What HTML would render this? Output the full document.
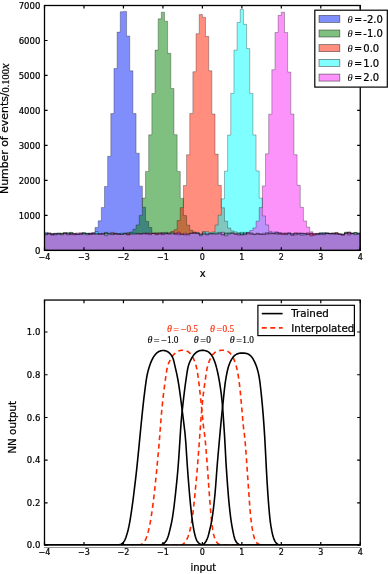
<!DOCTYPE html>
<html><head><meta charset="utf-8"><title>figure</title>
<style>html,body{margin:0;padding:0;background:#fff}svg text{white-space:pre}</style></head>
<body>
<svg width="388" height="574" viewBox="0 0 388 574" style="display:block;will-change:transform;font-family:'DejaVu Sans','Liberation Sans',sans-serif">
<rect x="0" y="0" width="388" height="574" fill="#fff"/>
<clipPath id="c1"><rect x="44.5" y="5.5" width="315.75" height="244.9"/></clipPath>
<g clip-path="url(#c1)">
<path d="M44.50,250.40 L44.50,232.38 L47.66,232.38 L47.66,234.03 L50.82,234.03 L50.82,233.65 L53.97,233.65 L53.97,233.37 L57.13,233.37 L57.13,234.28 L60.29,234.28 L60.29,233.68 L63.45,233.68 L63.45,233.68 L66.60,233.68 L66.60,235.02 L69.76,235.02 L69.76,232.90 L72.92,232.90 L72.92,233.22 L76.07,233.22 L76.07,234.15 L79.23,234.15 L79.23,233.79 L82.39,233.79 L82.39,233.21 L85.55,233.21 L85.55,233.61 L88.71,233.61 L88.71,233.04 L91.86,233.04 L91.86,232.59 L95.02,232.59 L95.02,227.51 L98.18,227.51 L98.18,220.85 L101.34,220.85 L101.34,207.54 L104.49,207.54 L104.49,186.49 L107.65,186.49 L107.65,156.32 L110.81,156.32 L110.81,113.61 L113.96,113.61 L113.96,68.51 L117.12,68.51 L117.12,32.12 L120.28,32.12 L120.28,11.80 L123.44,11.80 L123.44,11.38 L126.59,11.38 L126.59,36.01 L129.75,36.01 L129.75,70.82 L132.91,70.82 L132.91,113.61 L136.07,113.61 L136.07,153.21 L139.22,153.21 L139.22,186.13 L142.38,186.13 L142.38,207.25 L145.54,207.25 L145.54,221.39 L148.70,221.39 L148.70,227.53 L151.86,227.53 L151.86,233.08 L155.01,233.08 L155.01,233.37 L158.17,233.37 L158.17,234.34 L161.33,234.34 L161.33,232.48 L164.49,232.48 L164.49,232.30 L167.64,232.30 L167.64,233.92 L170.80,233.92 L170.80,233.03 L173.96,233.03 L173.96,233.81 L177.12,233.81 L177.12,233.24 L180.27,233.24 L180.27,234.25 L183.43,234.25 L183.43,234.98 L186.59,234.98 L186.59,235.06 L189.75,235.06 L189.75,233.38 L192.90,233.38 L192.90,231.96 L196.06,231.96 L196.06,233.47 L199.22,233.47 L199.22,234.08 L202.38,234.08 L202.38,232.21 L205.53,232.21 L205.53,233.50 L208.69,233.50 L208.69,233.60 L211.85,233.60 L211.85,233.48 L215.01,233.48 L215.01,233.78 L218.16,233.78 L218.16,233.91 L221.32,233.91 L221.32,234.77 L224.48,234.77 L224.48,233.29 L227.63,233.29 L227.63,233.75 L230.79,233.75 L230.79,232.76 L233.95,232.76 L233.95,233.96 L237.11,233.96 L237.11,235.14 L240.26,235.14 L240.26,233.75 L243.42,233.75 L243.42,232.38 L246.58,232.38 L246.58,233.97 L249.74,233.97 L249.74,234.36 L252.90,234.36 L252.90,234.59 L256.05,234.59 L256.05,234.48 L259.21,234.48 L259.21,233.91 L262.37,233.91 L262.37,234.58 L265.53,234.58 L265.53,232.53 L268.68,232.53 L268.68,233.89 L271.84,233.89 L271.84,233.59 L275.00,233.59 L275.00,232.58 L278.15,232.58 L278.15,232.53 L281.31,232.53 L281.31,233.84 L284.47,233.84 L284.47,233.42 L287.63,233.42 L287.63,233.11 L290.78,233.11 L290.78,233.82 L293.94,233.82 L293.94,235.04 L297.10,235.04 L297.10,233.18 L300.26,233.18 L300.26,232.99 L303.42,232.99 L303.42,233.36 L306.57,233.36 L306.57,234.38 L309.73,234.38 L309.73,233.83 L312.89,233.83 L312.89,234.13 L316.05,234.13 L316.05,233.91 L319.20,233.91 L319.20,232.68 L322.36,232.68 L322.36,232.51 L325.52,232.51 L325.52,233.16 L328.68,233.16 L328.68,233.26 L331.83,233.26 L331.83,233.16 L334.99,233.16 L334.99,233.69 L338.15,233.69 L338.15,233.73 L341.31,233.73 L341.31,234.19 L344.46,234.19 L344.46,233.72 L347.62,233.72 L347.62,231.95 L350.78,231.95 L350.78,233.01 L353.94,233.01 L353.94,233.94 L357.09,233.94 L357.09,234.04 L360.25,234.04 L360.25,250.40Z" fill="rgb(0,30,245)" fill-opacity="0.5"/>
<path d="M44.50,250.40 L44.50,234.34 L47.66,234.34 L47.66,233.39 L50.82,233.39 L50.82,233.38 L53.97,233.38 L53.97,234.78 L57.13,234.78 L57.13,233.30 L60.29,233.30 L60.29,234.11 L63.45,234.11 L63.45,232.59 L66.60,232.59 L66.60,233.56 L69.76,233.56 L69.76,232.36 L72.92,232.36 L72.92,234.03 L76.07,234.03 L76.07,233.90 L79.23,233.90 L79.23,233.45 L82.39,233.45 L82.39,232.87 L85.55,232.87 L85.55,233.24 L88.71,233.24 L88.71,234.62 L91.86,234.62 L91.86,233.54 L95.02,233.54 L95.02,233.66 L98.18,233.66 L98.18,234.01 L101.34,234.01 L101.34,234.17 L104.49,234.17 L104.49,232.34 L107.65,232.34 L107.65,233.98 L110.81,233.98 L110.81,234.32 L113.96,234.32 L113.96,233.19 L117.12,233.19 L117.12,233.57 L120.28,233.57 L120.28,233.69 L123.44,233.69 L123.44,232.93 L126.59,232.93 L126.59,232.82 L129.75,232.82 L129.75,232.00 L132.91,232.00 L132.91,229.22 L136.07,229.22 L136.07,224.97 L139.22,224.97 L139.22,215.40 L142.38,215.40 L142.38,198.07 L145.54,198.07 L145.54,171.44 L148.70,171.44 L148.70,134.85 L151.86,134.85 L151.86,93.62 L155.01,93.62 L155.01,50.11 L158.17,50.11 L158.17,18.83 L161.33,18.83 L161.33,12.22 L164.49,12.22 L164.49,21.17 L167.64,21.17 L167.64,53.33 L170.80,53.33 L170.80,88.52 L173.96,88.52 L173.96,134.68 L177.12,134.68 L177.12,171.44 L180.27,171.44 L180.27,198.38 L183.43,198.38 L183.43,215.61 L186.59,215.61 L186.59,225.19 L189.75,225.19 L189.75,230.27 L192.90,230.27 L192.90,232.94 L196.06,232.94 L196.06,233.42 L199.22,233.42 L199.22,234.71 L202.38,234.71 L202.38,233.62 L205.53,233.62 L205.53,235.04 L208.69,235.04 L208.69,233.82 L211.85,233.82 L211.85,233.14 L215.01,233.14 L215.01,232.84 L218.16,232.84 L218.16,232.37 L221.32,232.37 L221.32,234.87 L224.48,234.87 L224.48,233.10 L227.63,233.10 L227.63,232.75 L230.79,232.75 L230.79,232.93 L233.95,232.93 L233.95,234.39 L237.11,234.39 L237.11,233.36 L240.26,233.36 L240.26,232.25 L243.42,232.25 L243.42,234.82 L246.58,234.82 L246.58,233.31 L249.74,233.31 L249.74,232.83 L252.90,232.83 L252.90,234.21 L256.05,234.21 L256.05,233.23 L259.21,233.23 L259.21,234.50 L262.37,234.50 L262.37,234.30 L265.53,234.30 L265.53,234.30 L268.68,234.30 L268.68,233.53 L271.84,233.53 L271.84,233.75 L275.00,233.75 L275.00,232.95 L278.15,232.95 L278.15,234.40 L281.31,234.40 L281.31,233.78 L284.47,233.78 L284.47,232.94 L287.63,232.94 L287.63,233.25 L290.78,233.25 L290.78,234.69 L293.94,234.69 L293.94,233.17 L297.10,233.17 L297.10,234.04 L300.26,234.04 L300.26,233.38 L303.42,233.38 L303.42,233.45 L306.57,233.45 L306.57,232.74 L309.73,232.74 L309.73,233.59 L312.89,233.59 L312.89,235.09 L316.05,235.09 L316.05,234.72 L319.20,234.72 L319.20,233.12 L322.36,233.12 L322.36,233.87 L325.52,233.87 L325.52,232.81 L328.68,232.81 L328.68,233.47 L331.83,233.47 L331.83,234.25 L334.99,234.25 L334.99,232.85 L338.15,232.85 L338.15,234.29 L341.31,234.29 L341.31,235.25 L344.46,235.25 L344.46,232.10 L347.62,232.10 L347.62,235.14 L350.78,235.14 L350.78,233.19 L353.94,233.19 L353.94,232.96 L357.09,232.96 L357.09,233.56 L360.25,233.56 L360.25,250.40Z" fill="rgb(0,128,0)" fill-opacity="0.5"/>
<path d="M44.50,250.40 L44.50,234.96 L47.66,234.96 L47.66,232.90 L50.82,232.90 L50.82,234.78 L53.97,234.78 L53.97,234.70 L57.13,234.70 L57.13,233.95 L60.29,233.95 L60.29,233.07 L63.45,233.07 L63.45,233.45 L66.60,233.45 L66.60,233.06 L69.76,233.06 L69.76,234.02 L72.92,234.02 L72.92,233.81 L76.07,233.81 L76.07,234.55 L79.23,234.55 L79.23,233.92 L82.39,233.92 L82.39,233.22 L85.55,233.22 L85.55,233.91 L88.71,233.91 L88.71,233.31 L91.86,233.31 L91.86,234.12 L95.02,234.12 L95.02,234.13 L98.18,234.13 L98.18,233.65 L101.34,233.65 L101.34,233.83 L104.49,233.83 L104.49,233.22 L107.65,233.22 L107.65,233.54 L110.81,233.54 L110.81,232.35 L113.96,232.35 L113.96,233.84 L117.12,233.84 L117.12,233.85 L120.28,233.85 L120.28,234.47 L123.44,234.47 L123.44,233.66 L126.59,233.66 L126.59,233.15 L129.75,233.15 L129.75,234.24 L132.91,234.24 L132.91,233.71 L136.07,233.71 L136.07,233.13 L139.22,233.13 L139.22,233.77 L142.38,233.77 L142.38,234.07 L145.54,234.07 L145.54,232.93 L148.70,232.93 L148.70,233.60 L151.86,233.60 L151.86,233.37 L155.01,233.37 L155.01,232.78 L158.17,232.78 L158.17,232.78 L161.33,232.78 L161.33,233.86 L164.49,233.86 L164.49,233.81 L167.64,233.81 L167.64,232.63 L170.80,232.63 L170.80,231.51 L173.96,231.51 L173.96,229.68 L177.12,229.68 L177.12,220.50 L180.27,220.50 L180.27,207.63 L183.43,207.63 L183.43,185.47 L186.59,185.47 L186.59,154.78 L189.75,154.78 L189.75,113.44 L192.90,113.44 L192.90,71.76 L196.06,71.76 L196.06,33.73 L199.22,33.73 L199.22,14.60 L202.38,14.60 L202.38,17.26 L205.53,17.26 L205.53,36.36 L208.69,36.36 L208.69,70.82 L211.85,70.82 L211.85,113.99 L215.01,113.99 L215.01,154.10 L218.16,154.10 L218.16,185.36 L221.32,185.36 L221.32,207.81 L224.48,207.81 L224.48,221.19 L227.63,221.19 L227.63,228.02 L230.79,228.02 L230.79,230.89 L233.95,230.89 L233.95,231.88 L237.11,231.88 L237.11,232.78 L240.26,232.78 L240.26,234.95 L243.42,234.95 L243.42,233.37 L246.58,233.37 L246.58,232.55 L249.74,232.55 L249.74,233.63 L252.90,233.63 L252.90,234.07 L256.05,234.07 L256.05,233.44 L259.21,233.44 L259.21,234.06 L262.37,234.06 L262.37,233.19 L265.53,233.19 L265.53,233.69 L268.68,233.69 L268.68,232.61 L271.84,232.61 L271.84,233.29 L275.00,233.29 L275.00,234.23 L278.15,234.23 L278.15,233.21 L281.31,233.21 L281.31,232.96 L284.47,232.96 L284.47,234.11 L287.63,234.11 L287.63,234.00 L290.78,234.00 L290.78,235.44 L293.94,235.44 L293.94,232.99 L297.10,232.99 L297.10,234.13 L300.26,234.13 L300.26,235.30 L303.42,235.30 L303.42,235.03 L306.57,235.03 L306.57,233.85 L309.73,233.85 L309.73,233.09 L312.89,233.09 L312.89,233.74 L316.05,233.74 L316.05,233.32 L319.20,233.32 L319.20,234.52 L322.36,234.52 L322.36,234.70 L325.52,234.70 L325.52,233.00 L328.68,233.00 L328.68,233.30 L331.83,233.30 L331.83,233.70 L334.99,233.70 L334.99,232.70 L338.15,232.70 L338.15,234.40 L341.31,234.40 L341.31,234.00 L344.46,234.00 L344.46,232.89 L347.62,232.89 L347.62,232.27 L350.78,232.27 L350.78,233.67 L353.94,233.67 L353.94,232.39 L357.09,232.39 L357.09,234.14 L360.25,234.14 L360.25,250.40Z" fill="rgb(255,30,0)" fill-opacity="0.5"/>
<path d="M44.50,250.40 L44.50,233.42 L47.66,233.42 L47.66,233.81 L50.82,233.81 L50.82,234.89 L53.97,234.89 L53.97,233.48 L57.13,233.48 L57.13,232.96 L60.29,232.96 L60.29,233.79 L63.45,233.79 L63.45,233.73 L66.60,233.73 L66.60,232.61 L69.76,232.61 L69.76,234.63 L72.92,234.63 L72.92,234.82 L76.07,234.82 L76.07,234.18 L79.23,234.18 L79.23,234.59 L82.39,234.59 L82.39,232.65 L85.55,232.65 L85.55,233.44 L88.71,233.44 L88.71,234.34 L91.86,234.34 L91.86,234.15 L95.02,234.15 L95.02,231.49 L98.18,231.49 L98.18,234.14 L101.34,234.14 L101.34,234.26 L104.49,234.26 L104.49,233.44 L107.65,233.44 L107.65,233.19 L110.81,233.19 L110.81,233.51 L113.96,233.51 L113.96,234.37 L117.12,234.37 L117.12,234.56 L120.28,234.56 L120.28,233.22 L123.44,233.22 L123.44,233.72 L126.59,233.72 L126.59,234.93 L129.75,234.93 L129.75,232.78 L132.91,232.78 L132.91,233.08 L136.07,233.08 L136.07,233.86 L139.22,233.86 L139.22,233.88 L142.38,233.88 L142.38,233.50 L145.54,233.50 L145.54,234.20 L148.70,234.20 L148.70,234.71 L151.86,234.71 L151.86,233.43 L155.01,233.43 L155.01,234.78 L158.17,234.78 L158.17,233.38 L161.33,233.38 L161.33,234.78 L164.49,234.78 L164.49,233.75 L167.64,233.75 L167.64,233.78 L170.80,233.78 L170.80,232.31 L173.96,232.31 L173.96,234.49 L177.12,234.49 L177.12,234.76 L180.27,234.76 L180.27,234.17 L183.43,234.17 L183.43,234.54 L186.59,234.54 L186.59,234.13 L189.75,234.13 L189.75,233.35 L192.90,233.35 L192.90,233.08 L196.06,233.08 L196.06,232.40 L199.22,232.40 L199.22,234.20 L202.38,234.20 L202.38,231.50 L205.53,231.50 L205.53,231.66 L208.69,231.66 L208.69,232.45 L211.85,232.45 L211.85,231.97 L215.01,231.97 L215.01,225.07 L218.16,225.07 L218.16,215.17 L221.32,215.17 L221.32,198.85 L224.48,198.85 L224.48,171.14 L227.63,171.14 L227.63,135.10 L230.79,135.10 L230.79,93.42 L233.95,93.42 L233.95,50.14 L237.11,50.14 L237.11,22.43 L240.26,22.43 L240.26,9.42 L243.42,9.42 L243.42,24.32 L246.58,24.32 L246.58,48.60 L249.74,48.60 L249.74,93.42 L252.90,93.42 L252.90,134.93 L256.05,134.93 L256.05,170.91 L259.21,170.91 L259.21,198.15 L262.37,198.15 L262.37,215.93 L265.53,215.93 L265.53,224.88 L268.68,224.88 L268.68,231.38 L271.84,231.38 L271.84,232.19 L275.00,232.19 L275.00,231.82 L278.15,231.82 L278.15,233.54 L281.31,233.54 L281.31,234.55 L284.47,234.55 L284.47,234.78 L287.63,234.78 L287.63,232.78 L290.78,232.78 L290.78,233.69 L293.94,233.69 L293.94,233.26 L297.10,233.26 L297.10,232.97 L300.26,232.97 L300.26,233.71 L303.42,233.71 L303.42,233.91 L306.57,233.91 L306.57,234.40 L309.73,234.40 L309.73,236.03 L312.89,236.03 L312.89,234.84 L316.05,234.84 L316.05,233.73 L319.20,233.73 L319.20,233.81 L322.36,233.81 L322.36,233.37 L325.52,233.37 L325.52,233.77 L328.68,233.77 L328.68,233.55 L331.83,233.55 L331.83,233.07 L334.99,233.07 L334.99,234.35 L338.15,234.35 L338.15,233.90 L341.31,233.90 L341.31,234.91 L344.46,234.91 L344.46,232.93 L347.62,232.93 L347.62,233.65 L350.78,233.65 L350.78,233.30 L353.94,233.30 L353.94,232.50 L357.09,232.50 L357.09,232.85 L360.25,232.85 L360.25,250.40Z" fill="rgb(0,255,255)" fill-opacity="0.5"/>
<path d="M44.50,250.40 L44.50,233.72 L47.66,233.72 L47.66,233.07 L50.82,233.07 L50.82,234.77 L53.97,234.77 L53.97,233.34 L57.13,233.34 L57.13,233.57 L60.29,233.57 L60.29,234.91 L63.45,234.91 L63.45,232.65 L66.60,232.65 L66.60,234.22 L69.76,234.22 L69.76,233.15 L72.92,233.15 L72.92,234.00 L76.07,234.00 L76.07,232.92 L79.23,232.92 L79.23,232.67 L82.39,232.67 L82.39,234.31 L85.55,234.31 L85.55,234.85 L88.71,234.85 L88.71,233.78 L91.86,233.78 L91.86,233.03 L95.02,233.03 L95.02,233.96 L98.18,233.96 L98.18,234.15 L101.34,234.15 L101.34,233.30 L104.49,233.30 L104.49,235.79 L107.65,235.79 L107.65,234.19 L110.81,234.19 L110.81,234.74 L113.96,234.74 L113.96,233.45 L117.12,233.45 L117.12,234.24 L120.28,234.24 L120.28,234.53 L123.44,234.53 L123.44,233.95 L126.59,233.95 L126.59,234.80 L129.75,234.80 L129.75,233.69 L132.91,233.69 L132.91,234.20 L136.07,234.20 L136.07,233.97 L139.22,233.97 L139.22,234.23 L142.38,234.23 L142.38,232.98 L145.54,232.98 L145.54,233.76 L148.70,233.76 L148.70,233.28 L151.86,233.28 L151.86,233.31 L155.01,233.31 L155.01,234.29 L158.17,234.29 L158.17,233.24 L161.33,233.24 L161.33,233.41 L164.49,233.41 L164.49,233.44 L167.64,233.44 L167.64,233.98 L170.80,233.98 L170.80,234.00 L173.96,234.00 L173.96,233.08 L177.12,233.08 L177.12,232.01 L180.27,232.01 L180.27,234.31 L183.43,234.31 L183.43,233.27 L186.59,233.27 L186.59,233.96 L189.75,233.96 L189.75,233.08 L192.90,233.08 L192.90,233.34 L196.06,233.34 L196.06,232.87 L199.22,232.87 L199.22,235.81 L202.38,235.81 L202.38,234.14 L205.53,234.14 L205.53,234.43 L208.69,234.43 L208.69,233.76 L211.85,233.76 L211.85,234.23 L215.01,234.23 L215.01,234.17 L218.16,234.17 L218.16,233.16 L221.32,233.16 L221.32,232.22 L224.48,232.22 L224.48,235.84 L227.63,235.84 L227.63,233.91 L230.79,233.91 L230.79,233.44 L233.95,233.44 L233.95,233.67 L237.11,233.67 L237.11,233.92 L240.26,233.92 L240.26,234.63 L243.42,234.63 L243.42,234.13 L246.58,234.13 L246.58,232.28 L249.74,232.28 L249.74,230.52 L252.90,230.52 L252.90,227.91 L256.05,227.91 L256.05,221.14 L259.21,221.14 L259.21,207.61 L262.37,207.61 L262.37,185.91 L265.53,185.91 L265.53,153.83 L268.68,153.83 L268.68,114.20 L271.84,114.20 L271.84,69.73 L275.00,69.73 L275.00,32.44 L278.15,32.44 L278.15,15.37 L281.31,15.37 L281.31,12.22 L284.47,12.22 L284.47,32.44 L287.63,32.44 L287.63,72.08 L290.78,72.08 L290.78,114.00 L293.94,114.00 L293.94,154.68 L297.10,154.68 L297.10,185.31 L300.26,185.31 L300.26,207.31 L303.42,207.31 L303.42,220.96 L306.57,220.96 L306.57,227.12 L309.73,227.12 L309.73,231.75 L312.89,231.75 L312.89,233.36 L316.05,233.36 L316.05,233.85 L319.20,233.85 L319.20,233.71 L322.36,233.71 L322.36,233.90 L325.52,233.90 L325.52,233.55 L328.68,233.55 L328.68,234.15 L331.83,234.15 L331.83,233.09 L334.99,233.09 L334.99,232.90 L338.15,232.90 L338.15,234.06 L341.31,234.06 L341.31,234.77 L344.46,234.77 L344.46,233.12 L347.62,233.12 L347.62,232.81 L350.78,232.81 L350.78,233.80 L353.94,233.80 L353.94,234.66 L357.09,234.66 L357.09,233.47 L360.25,233.47 L360.25,250.40Z" fill="rgb(248,40,248)" fill-opacity="0.5"/>
<path d="M44.50,250.40 L44.50,234.96 L47.66,234.96 L47.66,234.03 L50.82,234.03 L50.82,234.89 L53.97,234.89 L53.97,234.78 L57.13,234.78 L57.13,234.28 L60.29,234.28 L60.29,234.91 L63.45,234.91 L63.45,233.73 L66.60,233.73 L66.60,235.02 L69.76,235.02 L69.76,234.63 L72.92,234.63 L72.92,234.82 L76.07,234.82 L76.07,234.55 L79.23,234.55 L79.23,234.59 L82.39,234.59 L82.39,234.31 L85.55,234.31 L85.55,234.85 L88.71,234.85 L88.71,234.62 L91.86,234.62 L91.86,234.15 L95.02,234.15 L95.02,234.13 L98.18,234.13 L98.18,234.15 L101.34,234.15 L101.34,234.26 L104.49,234.26 L104.49,235.79 L107.65,235.79 L107.65,234.19 L110.81,234.19 L110.81,234.74 L113.96,234.74 L113.96,234.37 L117.12,234.37 L117.12,234.56 L120.28,234.56 L120.28,234.53 L123.44,234.53 L123.44,233.95 L126.59,233.95 L126.59,234.93 L129.75,234.93 L129.75,234.24 L132.91,234.24 L132.91,234.20 L136.07,234.20 L136.07,233.97 L139.22,233.97 L139.22,234.23 L142.38,234.23 L142.38,234.07 L145.54,234.07 L145.54,234.20 L148.70,234.20 L148.70,234.71 L151.86,234.71 L151.86,233.43 L155.01,233.43 L155.01,234.78 L158.17,234.78 L158.17,234.34 L161.33,234.34 L161.33,234.78 L164.49,234.78 L164.49,233.81 L167.64,233.81 L167.64,233.98 L170.80,233.98 L170.80,234.00 L173.96,234.00 L173.96,234.49 L177.12,234.49 L177.12,234.76 L180.27,234.76 L180.27,234.31 L183.43,234.31 L183.43,234.98 L186.59,234.98 L186.59,235.06 L189.75,235.06 L189.75,233.38 L192.90,233.38 L192.90,233.34 L196.06,233.34 L196.06,233.47 L199.22,233.47 L199.22,235.81 L202.38,235.81 L202.38,234.14 L205.53,234.14 L205.53,235.04 L208.69,235.04 L208.69,233.82 L211.85,233.82 L211.85,234.23 L215.01,234.23 L215.01,234.17 L218.16,234.17 L218.16,233.91 L221.32,233.91 L221.32,234.87 L224.48,234.87 L224.48,235.84 L227.63,235.84 L227.63,233.91 L230.79,233.91 L230.79,233.44 L233.95,233.44 L233.95,234.39 L237.11,234.39 L237.11,235.14 L240.26,235.14 L240.26,234.95 L243.42,234.95 L243.42,234.82 L246.58,234.82 L246.58,233.97 L249.74,233.97 L249.74,234.36 L252.90,234.36 L252.90,234.59 L256.05,234.59 L256.05,234.48 L259.21,234.48 L259.21,234.50 L262.37,234.50 L262.37,234.58 L265.53,234.58 L265.53,234.30 L268.68,234.30 L268.68,233.89 L271.84,233.89 L271.84,233.75 L275.00,233.75 L275.00,234.23 L278.15,234.23 L278.15,234.40 L281.31,234.40 L281.31,234.55 L284.47,234.55 L284.47,234.78 L287.63,234.78 L287.63,234.00 L290.78,234.00 L290.78,235.44 L293.94,235.44 L293.94,235.04 L297.10,235.04 L297.10,234.13 L300.26,234.13 L300.26,235.30 L303.42,235.30 L303.42,235.03 L306.57,235.03 L306.57,234.40 L309.73,234.40 L309.73,236.03 L312.89,236.03 L312.89,235.09 L316.05,235.09 L316.05,234.72 L319.20,234.72 L319.20,234.52 L322.36,234.52 L322.36,234.70 L325.52,234.70 L325.52,233.77 L328.68,233.77 L328.68,234.15 L331.83,234.15 L331.83,234.25 L334.99,234.25 L334.99,234.35 L338.15,234.35 L338.15,234.40 L341.31,234.40 L341.31,235.25 L344.46,235.25 L344.46,233.72 L347.62,233.72 L347.62,235.14 L350.78,235.14 L350.78,233.80 L353.94,233.80 L353.94,234.66 L357.09,234.66 L357.09,234.14 L360.25,234.14 L360.25,250.40Z" fill="rgb(167,122,212)"/>
<path d="M44.50,250.40 L44.50,232.38 L47.66,232.38 L47.66,234.03 L50.82,234.03 L50.82,233.65 L53.97,233.65 L53.97,233.37 L57.13,233.37 L57.13,234.28 L60.29,234.28 L60.29,233.68 L63.45,233.68 L63.45,233.68 L66.60,233.68 L66.60,235.02 L69.76,235.02 L69.76,232.90 L72.92,232.90 L72.92,233.22 L76.07,233.22 L76.07,234.15 L79.23,234.15 L79.23,233.79 L82.39,233.79 L82.39,233.21 L85.55,233.21 L85.55,233.61 L88.71,233.61 L88.71,233.04 L91.86,233.04 L91.86,232.59 L95.02,232.59 L95.02,227.51 L98.18,227.51 L98.18,220.85 L101.34,220.85 L101.34,207.54 L104.49,207.54 L104.49,186.49 L107.65,186.49 L107.65,156.32 L110.81,156.32 L110.81,113.61 L113.96,113.61 L113.96,68.51 L117.12,68.51 L117.12,32.12 L120.28,32.12 L120.28,11.80 L123.44,11.80 L123.44,11.38 L126.59,11.38 L126.59,36.01 L129.75,36.01 L129.75,70.82 L132.91,70.82 L132.91,113.61 L136.07,113.61 L136.07,153.21 L139.22,153.21 L139.22,186.13 L142.38,186.13 L142.38,207.25 L145.54,207.25 L145.54,221.39 L148.70,221.39 L148.70,227.53 L151.86,227.53 L151.86,233.08 L155.01,233.08 L155.01,233.37 L158.17,233.37 L158.17,234.34 L161.33,234.34 L161.33,232.48 L164.49,232.48 L164.49,232.30 L167.64,232.30 L167.64,233.92 L170.80,233.92 L170.80,233.03 L173.96,233.03 L173.96,233.81 L177.12,233.81 L177.12,233.24 L180.27,233.24 L180.27,234.25 L183.43,234.25 L183.43,234.98 L186.59,234.98 L186.59,235.06 L189.75,235.06 L189.75,233.38 L192.90,233.38 L192.90,231.96 L196.06,231.96 L196.06,233.47 L199.22,233.47 L199.22,234.08 L202.38,234.08 L202.38,232.21 L205.53,232.21 L205.53,233.50 L208.69,233.50 L208.69,233.60 L211.85,233.60 L211.85,233.48 L215.01,233.48 L215.01,233.78 L218.16,233.78 L218.16,233.91 L221.32,233.91 L221.32,234.77 L224.48,234.77 L224.48,233.29 L227.63,233.29 L227.63,233.75 L230.79,233.75 L230.79,232.76 L233.95,232.76 L233.95,233.96 L237.11,233.96 L237.11,235.14 L240.26,235.14 L240.26,233.75 L243.42,233.75 L243.42,232.38 L246.58,232.38 L246.58,233.97 L249.74,233.97 L249.74,234.36 L252.90,234.36 L252.90,234.59 L256.05,234.59 L256.05,234.48 L259.21,234.48 L259.21,233.91 L262.37,233.91 L262.37,234.58 L265.53,234.58 L265.53,232.53 L268.68,232.53 L268.68,233.89 L271.84,233.89 L271.84,233.59 L275.00,233.59 L275.00,232.58 L278.15,232.58 L278.15,232.53 L281.31,232.53 L281.31,233.84 L284.47,233.84 L284.47,233.42 L287.63,233.42 L287.63,233.11 L290.78,233.11 L290.78,233.82 L293.94,233.82 L293.94,235.04 L297.10,235.04 L297.10,233.18 L300.26,233.18 L300.26,232.99 L303.42,232.99 L303.42,233.36 L306.57,233.36 L306.57,234.38 L309.73,234.38 L309.73,233.83 L312.89,233.83 L312.89,234.13 L316.05,234.13 L316.05,233.91 L319.20,233.91 L319.20,232.68 L322.36,232.68 L322.36,232.51 L325.52,232.51 L325.52,233.16 L328.68,233.16 L328.68,233.26 L331.83,233.26 L331.83,233.16 L334.99,233.16 L334.99,233.69 L338.15,233.69 L338.15,233.73 L341.31,233.73 L341.31,234.19 L344.46,234.19 L344.46,233.72 L347.62,233.72 L347.62,231.95 L350.78,231.95 L350.78,233.01 L353.94,233.01 L353.94,233.94 L357.09,233.94 L357.09,234.04 L360.25,234.04 L360.25,250.40Z" fill="none" stroke="#000" stroke-opacity="0.42" stroke-width="0.7"/>
<path d="M44.50,250.40 L44.50,234.34 L47.66,234.34 L47.66,233.39 L50.82,233.39 L50.82,233.38 L53.97,233.38 L53.97,234.78 L57.13,234.78 L57.13,233.30 L60.29,233.30 L60.29,234.11 L63.45,234.11 L63.45,232.59 L66.60,232.59 L66.60,233.56 L69.76,233.56 L69.76,232.36 L72.92,232.36 L72.92,234.03 L76.07,234.03 L76.07,233.90 L79.23,233.90 L79.23,233.45 L82.39,233.45 L82.39,232.87 L85.55,232.87 L85.55,233.24 L88.71,233.24 L88.71,234.62 L91.86,234.62 L91.86,233.54 L95.02,233.54 L95.02,233.66 L98.18,233.66 L98.18,234.01 L101.34,234.01 L101.34,234.17 L104.49,234.17 L104.49,232.34 L107.65,232.34 L107.65,233.98 L110.81,233.98 L110.81,234.32 L113.96,234.32 L113.96,233.19 L117.12,233.19 L117.12,233.57 L120.28,233.57 L120.28,233.69 L123.44,233.69 L123.44,232.93 L126.59,232.93 L126.59,232.82 L129.75,232.82 L129.75,232.00 L132.91,232.00 L132.91,229.22 L136.07,229.22 L136.07,224.97 L139.22,224.97 L139.22,215.40 L142.38,215.40 L142.38,198.07 L145.54,198.07 L145.54,171.44 L148.70,171.44 L148.70,134.85 L151.86,134.85 L151.86,93.62 L155.01,93.62 L155.01,50.11 L158.17,50.11 L158.17,18.83 L161.33,18.83 L161.33,12.22 L164.49,12.22 L164.49,21.17 L167.64,21.17 L167.64,53.33 L170.80,53.33 L170.80,88.52 L173.96,88.52 L173.96,134.68 L177.12,134.68 L177.12,171.44 L180.27,171.44 L180.27,198.38 L183.43,198.38 L183.43,215.61 L186.59,215.61 L186.59,225.19 L189.75,225.19 L189.75,230.27 L192.90,230.27 L192.90,232.94 L196.06,232.94 L196.06,233.42 L199.22,233.42 L199.22,234.71 L202.38,234.71 L202.38,233.62 L205.53,233.62 L205.53,235.04 L208.69,235.04 L208.69,233.82 L211.85,233.82 L211.85,233.14 L215.01,233.14 L215.01,232.84 L218.16,232.84 L218.16,232.37 L221.32,232.37 L221.32,234.87 L224.48,234.87 L224.48,233.10 L227.63,233.10 L227.63,232.75 L230.79,232.75 L230.79,232.93 L233.95,232.93 L233.95,234.39 L237.11,234.39 L237.11,233.36 L240.26,233.36 L240.26,232.25 L243.42,232.25 L243.42,234.82 L246.58,234.82 L246.58,233.31 L249.74,233.31 L249.74,232.83 L252.90,232.83 L252.90,234.21 L256.05,234.21 L256.05,233.23 L259.21,233.23 L259.21,234.50 L262.37,234.50 L262.37,234.30 L265.53,234.30 L265.53,234.30 L268.68,234.30 L268.68,233.53 L271.84,233.53 L271.84,233.75 L275.00,233.75 L275.00,232.95 L278.15,232.95 L278.15,234.40 L281.31,234.40 L281.31,233.78 L284.47,233.78 L284.47,232.94 L287.63,232.94 L287.63,233.25 L290.78,233.25 L290.78,234.69 L293.94,234.69 L293.94,233.17 L297.10,233.17 L297.10,234.04 L300.26,234.04 L300.26,233.38 L303.42,233.38 L303.42,233.45 L306.57,233.45 L306.57,232.74 L309.73,232.74 L309.73,233.59 L312.89,233.59 L312.89,235.09 L316.05,235.09 L316.05,234.72 L319.20,234.72 L319.20,233.12 L322.36,233.12 L322.36,233.87 L325.52,233.87 L325.52,232.81 L328.68,232.81 L328.68,233.47 L331.83,233.47 L331.83,234.25 L334.99,234.25 L334.99,232.85 L338.15,232.85 L338.15,234.29 L341.31,234.29 L341.31,235.25 L344.46,235.25 L344.46,232.10 L347.62,232.10 L347.62,235.14 L350.78,235.14 L350.78,233.19 L353.94,233.19 L353.94,232.96 L357.09,232.96 L357.09,233.56 L360.25,233.56 L360.25,250.40Z" fill="none" stroke="#000" stroke-opacity="0.42" stroke-width="0.7"/>
<path d="M44.50,250.40 L44.50,234.96 L47.66,234.96 L47.66,232.90 L50.82,232.90 L50.82,234.78 L53.97,234.78 L53.97,234.70 L57.13,234.70 L57.13,233.95 L60.29,233.95 L60.29,233.07 L63.45,233.07 L63.45,233.45 L66.60,233.45 L66.60,233.06 L69.76,233.06 L69.76,234.02 L72.92,234.02 L72.92,233.81 L76.07,233.81 L76.07,234.55 L79.23,234.55 L79.23,233.92 L82.39,233.92 L82.39,233.22 L85.55,233.22 L85.55,233.91 L88.71,233.91 L88.71,233.31 L91.86,233.31 L91.86,234.12 L95.02,234.12 L95.02,234.13 L98.18,234.13 L98.18,233.65 L101.34,233.65 L101.34,233.83 L104.49,233.83 L104.49,233.22 L107.65,233.22 L107.65,233.54 L110.81,233.54 L110.81,232.35 L113.96,232.35 L113.96,233.84 L117.12,233.84 L117.12,233.85 L120.28,233.85 L120.28,234.47 L123.44,234.47 L123.44,233.66 L126.59,233.66 L126.59,233.15 L129.75,233.15 L129.75,234.24 L132.91,234.24 L132.91,233.71 L136.07,233.71 L136.07,233.13 L139.22,233.13 L139.22,233.77 L142.38,233.77 L142.38,234.07 L145.54,234.07 L145.54,232.93 L148.70,232.93 L148.70,233.60 L151.86,233.60 L151.86,233.37 L155.01,233.37 L155.01,232.78 L158.17,232.78 L158.17,232.78 L161.33,232.78 L161.33,233.86 L164.49,233.86 L164.49,233.81 L167.64,233.81 L167.64,232.63 L170.80,232.63 L170.80,231.51 L173.96,231.51 L173.96,229.68 L177.12,229.68 L177.12,220.50 L180.27,220.50 L180.27,207.63 L183.43,207.63 L183.43,185.47 L186.59,185.47 L186.59,154.78 L189.75,154.78 L189.75,113.44 L192.90,113.44 L192.90,71.76 L196.06,71.76 L196.06,33.73 L199.22,33.73 L199.22,14.60 L202.38,14.60 L202.38,17.26 L205.53,17.26 L205.53,36.36 L208.69,36.36 L208.69,70.82 L211.85,70.82 L211.85,113.99 L215.01,113.99 L215.01,154.10 L218.16,154.10 L218.16,185.36 L221.32,185.36 L221.32,207.81 L224.48,207.81 L224.48,221.19 L227.63,221.19 L227.63,228.02 L230.79,228.02 L230.79,230.89 L233.95,230.89 L233.95,231.88 L237.11,231.88 L237.11,232.78 L240.26,232.78 L240.26,234.95 L243.42,234.95 L243.42,233.37 L246.58,233.37 L246.58,232.55 L249.74,232.55 L249.74,233.63 L252.90,233.63 L252.90,234.07 L256.05,234.07 L256.05,233.44 L259.21,233.44 L259.21,234.06 L262.37,234.06 L262.37,233.19 L265.53,233.19 L265.53,233.69 L268.68,233.69 L268.68,232.61 L271.84,232.61 L271.84,233.29 L275.00,233.29 L275.00,234.23 L278.15,234.23 L278.15,233.21 L281.31,233.21 L281.31,232.96 L284.47,232.96 L284.47,234.11 L287.63,234.11 L287.63,234.00 L290.78,234.00 L290.78,235.44 L293.94,235.44 L293.94,232.99 L297.10,232.99 L297.10,234.13 L300.26,234.13 L300.26,235.30 L303.42,235.30 L303.42,235.03 L306.57,235.03 L306.57,233.85 L309.73,233.85 L309.73,233.09 L312.89,233.09 L312.89,233.74 L316.05,233.74 L316.05,233.32 L319.20,233.32 L319.20,234.52 L322.36,234.52 L322.36,234.70 L325.52,234.70 L325.52,233.00 L328.68,233.00 L328.68,233.30 L331.83,233.30 L331.83,233.70 L334.99,233.70 L334.99,232.70 L338.15,232.70 L338.15,234.40 L341.31,234.40 L341.31,234.00 L344.46,234.00 L344.46,232.89 L347.62,232.89 L347.62,232.27 L350.78,232.27 L350.78,233.67 L353.94,233.67 L353.94,232.39 L357.09,232.39 L357.09,234.14 L360.25,234.14 L360.25,250.40Z" fill="none" stroke="#000" stroke-opacity="0.42" stroke-width="0.7"/>
<path d="M44.50,250.40 L44.50,233.42 L47.66,233.42 L47.66,233.81 L50.82,233.81 L50.82,234.89 L53.97,234.89 L53.97,233.48 L57.13,233.48 L57.13,232.96 L60.29,232.96 L60.29,233.79 L63.45,233.79 L63.45,233.73 L66.60,233.73 L66.60,232.61 L69.76,232.61 L69.76,234.63 L72.92,234.63 L72.92,234.82 L76.07,234.82 L76.07,234.18 L79.23,234.18 L79.23,234.59 L82.39,234.59 L82.39,232.65 L85.55,232.65 L85.55,233.44 L88.71,233.44 L88.71,234.34 L91.86,234.34 L91.86,234.15 L95.02,234.15 L95.02,231.49 L98.18,231.49 L98.18,234.14 L101.34,234.14 L101.34,234.26 L104.49,234.26 L104.49,233.44 L107.65,233.44 L107.65,233.19 L110.81,233.19 L110.81,233.51 L113.96,233.51 L113.96,234.37 L117.12,234.37 L117.12,234.56 L120.28,234.56 L120.28,233.22 L123.44,233.22 L123.44,233.72 L126.59,233.72 L126.59,234.93 L129.75,234.93 L129.75,232.78 L132.91,232.78 L132.91,233.08 L136.07,233.08 L136.07,233.86 L139.22,233.86 L139.22,233.88 L142.38,233.88 L142.38,233.50 L145.54,233.50 L145.54,234.20 L148.70,234.20 L148.70,234.71 L151.86,234.71 L151.86,233.43 L155.01,233.43 L155.01,234.78 L158.17,234.78 L158.17,233.38 L161.33,233.38 L161.33,234.78 L164.49,234.78 L164.49,233.75 L167.64,233.75 L167.64,233.78 L170.80,233.78 L170.80,232.31 L173.96,232.31 L173.96,234.49 L177.12,234.49 L177.12,234.76 L180.27,234.76 L180.27,234.17 L183.43,234.17 L183.43,234.54 L186.59,234.54 L186.59,234.13 L189.75,234.13 L189.75,233.35 L192.90,233.35 L192.90,233.08 L196.06,233.08 L196.06,232.40 L199.22,232.40 L199.22,234.20 L202.38,234.20 L202.38,231.50 L205.53,231.50 L205.53,231.66 L208.69,231.66 L208.69,232.45 L211.85,232.45 L211.85,231.97 L215.01,231.97 L215.01,225.07 L218.16,225.07 L218.16,215.17 L221.32,215.17 L221.32,198.85 L224.48,198.85 L224.48,171.14 L227.63,171.14 L227.63,135.10 L230.79,135.10 L230.79,93.42 L233.95,93.42 L233.95,50.14 L237.11,50.14 L237.11,22.43 L240.26,22.43 L240.26,9.42 L243.42,9.42 L243.42,24.32 L246.58,24.32 L246.58,48.60 L249.74,48.60 L249.74,93.42 L252.90,93.42 L252.90,134.93 L256.05,134.93 L256.05,170.91 L259.21,170.91 L259.21,198.15 L262.37,198.15 L262.37,215.93 L265.53,215.93 L265.53,224.88 L268.68,224.88 L268.68,231.38 L271.84,231.38 L271.84,232.19 L275.00,232.19 L275.00,231.82 L278.15,231.82 L278.15,233.54 L281.31,233.54 L281.31,234.55 L284.47,234.55 L284.47,234.78 L287.63,234.78 L287.63,232.78 L290.78,232.78 L290.78,233.69 L293.94,233.69 L293.94,233.26 L297.10,233.26 L297.10,232.97 L300.26,232.97 L300.26,233.71 L303.42,233.71 L303.42,233.91 L306.57,233.91 L306.57,234.40 L309.73,234.40 L309.73,236.03 L312.89,236.03 L312.89,234.84 L316.05,234.84 L316.05,233.73 L319.20,233.73 L319.20,233.81 L322.36,233.81 L322.36,233.37 L325.52,233.37 L325.52,233.77 L328.68,233.77 L328.68,233.55 L331.83,233.55 L331.83,233.07 L334.99,233.07 L334.99,234.35 L338.15,234.35 L338.15,233.90 L341.31,233.90 L341.31,234.91 L344.46,234.91 L344.46,232.93 L347.62,232.93 L347.62,233.65 L350.78,233.65 L350.78,233.30 L353.94,233.30 L353.94,232.50 L357.09,232.50 L357.09,232.85 L360.25,232.85 L360.25,250.40Z" fill="none" stroke="#000" stroke-opacity="0.42" stroke-width="0.7"/>
<path d="M44.50,250.40 L44.50,233.72 L47.66,233.72 L47.66,233.07 L50.82,233.07 L50.82,234.77 L53.97,234.77 L53.97,233.34 L57.13,233.34 L57.13,233.57 L60.29,233.57 L60.29,234.91 L63.45,234.91 L63.45,232.65 L66.60,232.65 L66.60,234.22 L69.76,234.22 L69.76,233.15 L72.92,233.15 L72.92,234.00 L76.07,234.00 L76.07,232.92 L79.23,232.92 L79.23,232.67 L82.39,232.67 L82.39,234.31 L85.55,234.31 L85.55,234.85 L88.71,234.85 L88.71,233.78 L91.86,233.78 L91.86,233.03 L95.02,233.03 L95.02,233.96 L98.18,233.96 L98.18,234.15 L101.34,234.15 L101.34,233.30 L104.49,233.30 L104.49,235.79 L107.65,235.79 L107.65,234.19 L110.81,234.19 L110.81,234.74 L113.96,234.74 L113.96,233.45 L117.12,233.45 L117.12,234.24 L120.28,234.24 L120.28,234.53 L123.44,234.53 L123.44,233.95 L126.59,233.95 L126.59,234.80 L129.75,234.80 L129.75,233.69 L132.91,233.69 L132.91,234.20 L136.07,234.20 L136.07,233.97 L139.22,233.97 L139.22,234.23 L142.38,234.23 L142.38,232.98 L145.54,232.98 L145.54,233.76 L148.70,233.76 L148.70,233.28 L151.86,233.28 L151.86,233.31 L155.01,233.31 L155.01,234.29 L158.17,234.29 L158.17,233.24 L161.33,233.24 L161.33,233.41 L164.49,233.41 L164.49,233.44 L167.64,233.44 L167.64,233.98 L170.80,233.98 L170.80,234.00 L173.96,234.00 L173.96,233.08 L177.12,233.08 L177.12,232.01 L180.27,232.01 L180.27,234.31 L183.43,234.31 L183.43,233.27 L186.59,233.27 L186.59,233.96 L189.75,233.96 L189.75,233.08 L192.90,233.08 L192.90,233.34 L196.06,233.34 L196.06,232.87 L199.22,232.87 L199.22,235.81 L202.38,235.81 L202.38,234.14 L205.53,234.14 L205.53,234.43 L208.69,234.43 L208.69,233.76 L211.85,233.76 L211.85,234.23 L215.01,234.23 L215.01,234.17 L218.16,234.17 L218.16,233.16 L221.32,233.16 L221.32,232.22 L224.48,232.22 L224.48,235.84 L227.63,235.84 L227.63,233.91 L230.79,233.91 L230.79,233.44 L233.95,233.44 L233.95,233.67 L237.11,233.67 L237.11,233.92 L240.26,233.92 L240.26,234.63 L243.42,234.63 L243.42,234.13 L246.58,234.13 L246.58,232.28 L249.74,232.28 L249.74,230.52 L252.90,230.52 L252.90,227.91 L256.05,227.91 L256.05,221.14 L259.21,221.14 L259.21,207.61 L262.37,207.61 L262.37,185.91 L265.53,185.91 L265.53,153.83 L268.68,153.83 L268.68,114.20 L271.84,114.20 L271.84,69.73 L275.00,69.73 L275.00,32.44 L278.15,32.44 L278.15,15.37 L281.31,15.37 L281.31,12.22 L284.47,12.22 L284.47,32.44 L287.63,32.44 L287.63,72.08 L290.78,72.08 L290.78,114.00 L293.94,114.00 L293.94,154.68 L297.10,154.68 L297.10,185.31 L300.26,185.31 L300.26,207.31 L303.42,207.31 L303.42,220.96 L306.57,220.96 L306.57,227.12 L309.73,227.12 L309.73,231.75 L312.89,231.75 L312.89,233.36 L316.05,233.36 L316.05,233.85 L319.20,233.85 L319.20,233.71 L322.36,233.71 L322.36,233.90 L325.52,233.90 L325.52,233.55 L328.68,233.55 L328.68,234.15 L331.83,234.15 L331.83,233.09 L334.99,233.09 L334.99,232.90 L338.15,232.90 L338.15,234.06 L341.31,234.06 L341.31,234.77 L344.46,234.77 L344.46,233.12 L347.62,233.12 L347.62,232.81 L350.78,232.81 L350.78,233.80 L353.94,233.80 L353.94,234.66 L357.09,234.66 L357.09,233.47 L360.25,233.47 L360.25,250.40Z" fill="none" stroke="#000" stroke-opacity="0.42" stroke-width="0.7"/>
</g>
<rect x="44.5" y="5.5" width="315.75" height="244.9" fill="none" stroke="#000" stroke-width="1.3"/>
<path d="M44.50,250.4 v-3.1 M44.50,5.5 v3.1" stroke="#000" stroke-width="1.2"/>
<text stroke="#000" stroke-width="0.22" x="44.50" y="259.80" font-size="8" text-anchor="middle">−4</text>
<path d="M83.97,250.4 v-3.1 M83.97,5.5 v3.1" stroke="#000" stroke-width="1.2"/>
<text stroke="#000" stroke-width="0.22" x="83.97" y="259.80" font-size="8" text-anchor="middle">−3</text>
<path d="M123.44,250.4 v-3.1 M123.44,5.5 v3.1" stroke="#000" stroke-width="1.2"/>
<text stroke="#000" stroke-width="0.22" x="123.44" y="259.80" font-size="8" text-anchor="middle">−2</text>
<path d="M162.91,250.4 v-3.1 M162.91,5.5 v3.1" stroke="#000" stroke-width="1.2"/>
<text stroke="#000" stroke-width="0.22" x="162.91" y="259.80" font-size="8" text-anchor="middle">−1</text>
<path d="M202.38,250.4 v-3.1 M202.38,5.5 v3.1" stroke="#000" stroke-width="1.2"/>
<text stroke="#000" stroke-width="0.22" x="202.38" y="259.80" font-size="8" text-anchor="middle">0</text>
<path d="M241.84,250.4 v-3.1 M241.84,5.5 v3.1" stroke="#000" stroke-width="1.2"/>
<text stroke="#000" stroke-width="0.22" x="241.84" y="259.80" font-size="8" text-anchor="middle">1</text>
<path d="M281.31,250.4 v-3.1 M281.31,5.5 v3.1" stroke="#000" stroke-width="1.2"/>
<text stroke="#000" stroke-width="0.22" x="281.31" y="259.80" font-size="8" text-anchor="middle">2</text>
<path d="M320.78,250.4 v-3.1 M320.78,5.5 v3.1" stroke="#000" stroke-width="1.2"/>
<text stroke="#000" stroke-width="0.22" x="320.78" y="259.80" font-size="8" text-anchor="middle">3</text>
<path d="M360.25,250.4 v-3.1 M360.25,5.5 v3.1" stroke="#000" stroke-width="1.2"/>
<text stroke="#000" stroke-width="0.22" x="360.25" y="259.80" font-size="8" text-anchor="middle">4</text>
<path d="M44.5,250.40 h3.1 M360.25,250.40 h-3.1" stroke="#000" stroke-width="1.2"/>
<text stroke="#000" stroke-width="0.22" x="40.30" y="253.65" font-size="8.5" text-anchor="end">0</text>
<path d="M44.5,215.41 h3.1 M360.25,215.41 h-3.1" stroke="#000" stroke-width="1.2"/>
<text stroke="#000" stroke-width="0.22" x="40.30" y="218.66" font-size="8.5" text-anchor="end">1000</text>
<path d="M44.5,180.43 h3.1 M360.25,180.43 h-3.1" stroke="#000" stroke-width="1.2"/>
<text stroke="#000" stroke-width="0.22" x="40.30" y="183.68" font-size="8.5" text-anchor="end">2000</text>
<path d="M44.5,145.44 h3.1 M360.25,145.44 h-3.1" stroke="#000" stroke-width="1.2"/>
<text stroke="#000" stroke-width="0.22" x="40.30" y="148.69" font-size="8.5" text-anchor="end">3000</text>
<path d="M44.5,110.46 h3.1 M360.25,110.46 h-3.1" stroke="#000" stroke-width="1.2"/>
<text stroke="#000" stroke-width="0.22" x="40.30" y="113.71" font-size="8.5" text-anchor="end">4000</text>
<path d="M44.5,75.47 h3.1 M360.25,75.47 h-3.1" stroke="#000" stroke-width="1.2"/>
<text stroke="#000" stroke-width="0.22" x="40.30" y="78.72" font-size="8.5" text-anchor="end">5000</text>
<path d="M44.5,40.49 h3.1 M360.25,40.49 h-3.1" stroke="#000" stroke-width="1.2"/>
<text stroke="#000" stroke-width="0.22" x="40.30" y="43.74" font-size="8.5" text-anchor="end">6000</text>
<path d="M44.5,5.50 h3.1 M360.25,5.50 h-3.1" stroke="#000" stroke-width="1.2"/>
<text stroke="#000" stroke-width="0.22" x="40.30" y="8.75" font-size="8.5" text-anchor="end">7000</text>
<text stroke="#000" stroke-width="0.22" x="202.7" y="276.5" font-size="10" text-anchor="middle">x</text>
<text stroke="#000" stroke-width="0.22" transform="translate(8.3,194.0) rotate(-90)" font-size="10.9"><tspan>Number of events/</tspan><tspan font-family="'Liberation Serif','DejaVu Serif',serif" font-size="10.4" dy="0.4">0.100</tspan><tspan font-family="'Liberation Serif','DejaVu Serif',serif" font-style="italic" font-size="12.5">x</tspan></text>
<rect x="314.8" y="10.2" width="72.5" height="76.89999999999999" fill="#fff" stroke="#000" stroke-width="1.2"/>
<rect x="319" y="15.40" width="20.8" height="7" fill="rgb(0,30,245)" fill-opacity="0.5" stroke="#000" stroke-opacity="0.5" stroke-width="0.8"/>
<text stroke="#000" stroke-width="0.22" y="22.50" font-size="10"><tspan x="347.6" font-family="'Liberation Serif','DejaVu Serif',serif" font-style="italic" font-size="10.5" stroke-width="0.05">θ</tspan><tspan x="353.9" font-size="10" stroke="none">=</tspan><tspan x="363.3">-2.0</tspan></text>
<rect x="319" y="30.00" width="20.8" height="7" fill="rgb(0,128,0)" fill-opacity="0.5" stroke="#000" stroke-opacity="0.5" stroke-width="0.8"/>
<text stroke="#000" stroke-width="0.22" y="37.10" font-size="10"><tspan x="347.6" font-family="'Liberation Serif','DejaVu Serif',serif" font-style="italic" font-size="10.5" stroke-width="0.05">θ</tspan><tspan x="353.9" font-size="10" stroke="none">=</tspan><tspan x="363.3">-1.0</tspan></text>
<rect x="319" y="44.60" width="20.8" height="7" fill="rgb(255,30,0)" fill-opacity="0.5" stroke="#000" stroke-opacity="0.5" stroke-width="0.8"/>
<text stroke="#000" stroke-width="0.22" y="51.70" font-size="10"><tspan x="347.6" font-family="'Liberation Serif','DejaVu Serif',serif" font-style="italic" font-size="10.5" stroke-width="0.05">θ</tspan><tspan x="353.9" font-size="10" stroke="none">=</tspan><tspan x="363.3">0.0</tspan></text>
<rect x="319" y="59.40" width="20.8" height="7" fill="rgb(0,255,255)" fill-opacity="0.5" stroke="#000" stroke-opacity="0.5" stroke-width="0.8"/>
<text stroke="#000" stroke-width="0.22" y="66.50" font-size="10"><tspan x="347.6" font-family="'Liberation Serif','DejaVu Serif',serif" font-style="italic" font-size="10.5" stroke-width="0.05">θ</tspan><tspan x="353.9" font-size="10" stroke="none">=</tspan><tspan x="363.3">1.0</tspan></text>
<rect x="319" y="74.10" width="20.8" height="7" fill="rgb(248,40,248)" fill-opacity="0.5" stroke="#000" stroke-opacity="0.5" stroke-width="0.8"/>
<text stroke="#000" stroke-width="0.22" y="81.20" font-size="10"><tspan x="347.6" font-family="'Liberation Serif','DejaVu Serif',serif" font-style="italic" font-size="10.5" stroke-width="0.05">θ</tspan><tspan x="353.9" font-size="10" stroke="none">=</tspan><tspan x="363.3">2.0</tspan></text>
<clipPath id="c2"><rect x="44.5" y="300.05" width="315.75" height="245.05"/></clipPath>
<g clip-path="url(#c2)" fill="none" stroke-linejoin="round">
<path d="M44.50,545.10 L99.76,545.10 L100.55,545.10 L101.34,545.10 L102.12,545.10 L102.91,545.10 L103.70,545.10 L104.49,545.10 L105.28,545.10 L106.07,545.10 L106.86,545.10 L107.65,545.10 L108.44,545.10 L109.23,545.10 L110.02,545.10 L110.81,545.10 L111.60,545.10 L112.39,545.10 L113.18,545.10 L113.96,545.10 L114.75,545.10 L115.54,545.10 L116.33,545.10 L117.12,545.10 L117.91,545.10 L118.70,545.10 L119.49,545.10 L120.28,545.10 L121.07,545.10 L121.86,545.10 L122.65,545.10 L123.44,545.10 L124.23,545.10 L125.02,545.10 L125.81,545.10 L126.59,545.10 L127.38,545.10 L128.17,545.10 L128.96,545.10 L129.75,545.10 L130.54,545.10 L131.33,545.10 L132.12,545.09 L132.91,545.09 L133.70,545.08 L134.49,545.08 L135.28,545.06 L136.07,545.04 L136.86,545.02 L137.65,544.98 L138.44,544.93 L139.22,544.85 L140.01,544.74 L140.80,544.58 L141.59,544.29 L142.38,543.78 L143.17,542.99 L143.96,541.99 L144.75,540.91 L145.54,539.55 L146.33,537.83 L147.12,535.67 L147.91,533.01 L148.70,529.86 L149.49,526.29 L150.28,522.23 L151.07,517.59 L151.85,512.40 L152.64,506.77 L153.43,500.66 L154.22,493.99 L155.01,486.76 L155.80,479.16 L156.59,471.14 L157.38,462.69 L158.17,454.14 L158.96,445.40 L159.75,435.94 L160.54,424.90 L161.33,415.23 L162.12,406.59 L162.91,398.87 L163.70,392.14 L164.49,386.12 L165.27,380.59 L166.06,374.74 L166.85,369.49 L167.64,365.89 L168.43,363.64 L169.22,361.83 L170.01,360.29 L170.80,358.91 L171.59,357.59 L172.38,356.37 L173.17,355.30 L173.96,354.36 L174.75,353.54 L175.54,352.83 L176.33,352.23 L177.12,351.71 L177.90,351.29 L178.69,350.94 L179.48,350.67 L180.27,350.47 L181.06,350.33 L181.85,350.26 L182.64,350.24 L183.43,350.26 L184.22,350.32 L185.01,350.44 L185.80,350.64 L186.59,350.92 L187.38,351.29 L188.17,351.76 L188.96,352.35 L189.75,353.06 L190.53,353.92 L191.32,354.94 L192.11,356.11 L192.90,357.48 L193.69,359.06 L194.48,360.91 L195.27,363.07 L196.06,365.62 L196.85,369.03 L197.64,373.72 L198.43,379.36 L199.22,385.54 L200.01,392.62 L200.80,400.01 L201.59,407.57 L202.38,415.60 L203.16,423.97 L203.95,430.16 L204.74,435.54 L205.53,443.49 L206.32,452.76 L207.11,462.95 L207.90,474.14 L208.69,485.48 L209.48,496.33 L210.27,506.66 L211.06,515.73 L211.85,523.32 L212.64,529.40 L213.43,533.62 L214.22,536.67 L215.01,538.99 L215.79,540.73 L216.58,542.04 L217.37,543.03 L218.16,543.74 L218.95,544.23 L219.74,544.54 L220.53,544.73 L221.32,544.86 L222.11,544.94 L222.90,545.00 L223.69,545.04 L224.48,545.06 L225.27,545.08 L226.06,545.09 L226.85,545.09 L227.64,545.09 L228.42,545.10 L229.21,545.10 L230.00,545.10 L230.79,545.10 L231.58,545.10 L232.37,545.10 L233.16,545.10 L233.95,545.10 L234.74,545.10 L235.53,545.10 L236.32,545.10 L237.11,545.10 L237.90,545.10 L238.69,545.10 L239.48,545.10 L240.26,545.10 L241.05,545.10 L241.84,545.10 L242.63,545.10 L243.42,545.10 L244.21,545.10 L245.00,545.10 L245.79,545.10 L246.58,545.10 L247.37,545.10 L248.16,545.10 L248.95,545.10 L249.74,545.10 L250.53,545.10 L251.32,545.10 L252.11,545.10 L252.89,545.10 L253.68,545.10 L254.47,545.10 L255.26,545.10 L256.05,545.10 L256.84,545.10 L257.63,545.10 L258.42,545.10 L259.21,545.10 L260.00,545.10 L260.79,545.10 L261.58,545.10 L262.37,545.10 L263.16,545.10 L263.95,545.10 L264.74,545.10 L265.52,545.10 L266.31,545.10 L267.10,545.10 L267.89,545.10 L268.68,545.10 L269.47,545.10 L270.26,545.10 L271.05,545.10 L271.84,545.10 L272.63,545.10 L273.42,545.10 L274.21,545.10 L275.00,545.10 L275.79,545.10 L276.58,545.10 L277.37,545.10 L278.15,545.10 L278.94,545.10 L279.73,545.10 L280.52,545.10 L281.31,545.10 L282.10,545.10 L282.89,545.10 L283.68,545.10 L284.47,545.10 L285.26,545.10 L286.05,545.10 L286.84,545.10 L287.63,545.10 L288.42,545.10 L289.21,545.10 L290.00,545.10 L290.78,545.10 L291.57,545.10 L292.36,545.10 L293.15,545.10 L293.94,545.10 L294.73,545.10 L295.52,545.10 L296.31,545.10 L297.10,545.10 L297.89,545.10 L298.68,545.10 L299.47,545.10 L300.26,545.10 L301.05,545.10 L301.84,545.10 L302.63,545.10 L303.42,545.10 L304.20,545.10 L304.99,545.10 L360.25,545.10" stroke="#ff2800" stroke-width="1.6" stroke-dasharray="4.9,3.6"/>
<path d="M44.50,545.10 L99.76,545.10 L100.55,545.10 L101.34,545.10 L102.12,545.10 L102.91,545.10 L103.70,545.10 L104.49,545.10 L105.28,545.10 L106.07,545.10 L106.86,545.10 L107.65,545.10 L108.44,545.10 L109.23,545.10 L110.02,545.10 L110.81,545.10 L111.60,545.10 L112.39,545.10 L113.18,545.10 L113.96,545.10 L114.75,545.10 L115.54,545.10 L116.33,545.10 L117.12,545.10 L117.91,545.10 L118.70,545.10 L119.49,545.10 L120.28,545.10 L121.07,545.10 L121.86,545.10 L122.65,545.10 L123.44,545.10 L124.23,545.10 L125.02,545.10 L125.81,545.10 L126.59,545.10 L127.38,545.10 L128.17,545.10 L128.96,545.10 L129.75,545.10 L130.54,545.10 L131.33,545.10 L132.12,545.10 L132.91,545.10 L133.70,545.10 L134.49,545.10 L135.28,545.10 L136.07,545.10 L136.86,545.10 L137.65,545.10 L138.44,545.10 L139.22,545.10 L140.01,545.10 L140.80,545.10 L141.59,545.10 L142.38,545.10 L143.17,545.10 L143.96,545.10 L144.75,545.10 L145.54,545.10 L146.33,545.10 L147.12,545.10 L147.91,545.10 L148.70,545.10 L149.49,545.10 L150.28,545.10 L151.07,545.10 L151.85,545.10 L152.64,545.10 L153.43,545.10 L154.22,545.10 L155.01,545.10 L155.80,545.10 L156.59,545.10 L157.38,545.10 L158.17,545.10 L158.96,545.10 L159.75,545.10 L160.54,545.10 L161.33,545.10 L162.12,545.10 L162.91,545.10 L163.70,545.10 L164.49,545.10 L165.27,545.10 L166.06,545.10 L166.85,545.10 L167.64,545.10 L168.43,545.10 L169.22,545.10 L170.01,545.10 L170.80,545.10 L171.59,545.10 L172.38,545.10 L173.17,545.10 L173.96,545.09 L174.75,545.09 L175.54,545.08 L176.33,545.07 L177.12,545.06 L177.90,545.03 L178.69,545.00 L179.48,544.94 L180.27,544.86 L181.06,544.75 L181.85,544.58 L182.64,544.29 L183.43,543.84 L184.22,543.15 L185.01,542.23 L185.80,541.10 L186.59,539.76 L187.38,538.17 L188.17,536.27 L188.96,533.94 L189.75,531.08 L190.53,527.79 L191.32,523.92 L192.11,519.24 L192.90,513.46 L193.69,506.63 L194.48,498.94 L195.27,490.67 L196.06,482.44 L196.85,473.89 L197.64,464.11 L198.43,453.57 L199.22,443.06 L200.01,432.25 L200.80,421.32 L201.59,411.61 L202.38,403.02 L203.16,395.65 L203.95,389.25 L204.74,383.53 L205.53,378.11 L206.32,372.58 L207.11,368.03 L207.90,364.98 L208.69,362.61 L209.48,360.56 L210.27,358.79 L211.06,357.26 L211.85,355.95 L212.64,354.83 L213.43,353.88 L214.22,353.09 L215.01,352.42 L215.79,351.87 L216.58,351.42 L217.37,351.06 L218.16,350.78 L218.95,350.57 L219.74,350.42 L220.53,350.33 L221.32,350.28 L222.11,350.27 L222.90,350.28 L223.69,350.32 L224.48,350.40 L225.27,350.54 L226.06,350.75 L226.85,351.03 L227.64,351.40 L228.42,351.86 L229.21,352.45 L230.00,353.16 L230.79,354.02 L231.58,355.04 L232.37,356.26 L233.16,357.70 L233.95,359.40 L234.74,361.40 L235.53,363.73 L236.32,366.47 L237.11,369.68 L237.90,373.65 L238.69,378.52 L239.48,384.32 L240.26,391.70 L241.05,400.18 L241.84,408.68 L242.63,417.95 L243.42,426.94 L244.21,432.85 L245.00,439.95 L245.79,449.87 L246.58,460.57 L247.37,472.08 L248.16,483.67 L248.95,494.85 L249.74,506.07 L250.53,515.47 L251.32,522.26 L252.11,527.71 L252.89,532.13 L253.68,535.70 L254.47,538.46 L255.26,540.50 L256.05,541.93 L256.84,542.89 L257.63,543.54 L258.42,544.00 L259.21,544.34 L260.00,544.59 L260.79,544.77 L261.58,544.89 L262.37,544.97 L263.16,545.02 L263.95,545.05 L264.74,545.07 L265.52,545.08 L266.31,545.09 L267.10,545.09 L267.89,545.10 L268.68,545.10 L269.47,545.10 L270.26,545.10 L271.05,545.10 L271.84,545.10 L272.63,545.10 L273.42,545.10 L274.21,545.10 L275.00,545.10 L275.79,545.10 L276.58,545.10 L277.37,545.10 L278.15,545.10 L278.94,545.10 L279.73,545.10 L280.52,545.10 L281.31,545.10 L282.10,545.10 L282.89,545.10 L283.68,545.10 L284.47,545.10 L285.26,545.10 L286.05,545.10 L286.84,545.10 L287.63,545.10 L288.42,545.10 L289.21,545.10 L290.00,545.10 L290.78,545.10 L291.57,545.10 L292.36,545.10 L293.15,545.10 L293.94,545.10 L294.73,545.10 L295.52,545.10 L296.31,545.10 L297.10,545.10 L297.89,545.10 L298.68,545.10 L299.47,545.10 L300.26,545.10 L301.05,545.10 L301.84,545.10 L302.63,545.10 L303.42,545.10 L304.20,545.10 L304.99,545.10 L360.25,545.10" stroke="#ff2800" stroke-width="1.6" stroke-dasharray="4.9,3.6"/>
<path d="M44.50,545.10 L99.76,545.10 L100.55,545.10 L101.34,545.10 L102.12,545.10 L102.91,545.10 L103.70,545.10 L104.49,545.10 L105.28,545.10 L106.07,545.10 L106.86,545.10 L107.65,545.10 L108.44,545.10 L109.23,545.09 L110.02,545.09 L110.81,545.09 L111.60,545.08 L112.39,545.07 L113.18,545.06 L113.96,545.05 L114.75,545.03 L115.54,545.00 L116.33,544.96 L117.12,544.91 L117.91,544.84 L118.70,544.74 L119.49,544.61 L120.28,544.44 L121.07,544.20 L121.86,543.80 L122.65,543.14 L123.44,542.22 L124.23,541.09 L125.02,539.60 L125.81,537.68 L126.59,535.36 L127.38,532.72 L128.17,529.72 L128.96,526.19 L129.75,522.07 L130.54,517.35 L131.33,512.16 L132.12,506.70 L132.91,500.92 L133.70,494.76 L134.49,488.21 L135.28,481.59 L136.07,474.80 L136.86,467.58 L137.65,459.90 L138.44,452.11 L139.22,444.09 L140.01,435.80 L140.80,427.71 L141.59,419.91 L142.38,412.16 L143.17,404.68 L143.96,397.71 L144.75,391.31 L145.54,385.09 L146.33,379.53 L147.12,375.03 L147.91,371.64 L148.70,368.74 L149.49,366.16 L150.28,363.89 L151.07,361.87 L151.85,360.09 L152.64,358.52 L153.43,357.14 L154.22,355.93 L155.01,354.87 L155.80,353.96 L156.59,353.18 L157.38,352.51 L158.17,351.96 L158.96,351.50 L159.75,351.14 L160.54,350.86 L161.33,350.67 L162.12,350.56 L162.91,350.52 L163.70,350.54 L164.49,350.62 L165.27,350.76 L166.06,350.98 L166.85,351.28 L167.64,351.69 L168.43,352.21 L169.22,352.86 L170.01,353.64 L170.80,354.58 L171.59,355.70 L172.38,357.01 L173.17,358.79 L173.96,361.62 L174.75,365.19 L175.54,368.63 L176.33,371.89 L177.12,375.58 L177.90,379.74 L178.69,384.43 L179.48,389.65 L180.27,395.35 L181.06,401.52 L181.85,407.74 L182.64,413.74 L183.43,419.98 L184.22,426.66 L185.01,433.51 L185.80,442.55 L186.59,454.76 L187.38,466.76 L188.17,477.30 L188.96,487.25 L189.75,496.51 L190.53,504.89 L191.32,512.36 L192.11,518.89 L192.90,524.51 L193.69,529.22 L194.48,533.07 L195.27,536.23 L196.06,538.73 L196.85,540.57 L197.64,541.85 L198.43,542.76 L199.22,543.44 L200.01,543.93 L200.80,544.28 L201.59,544.53 L202.38,544.70 L203.16,544.83 L203.95,544.92 L204.74,544.98 L205.53,545.02 L206.32,545.04 L207.11,545.06 L207.90,545.08 L208.69,545.08 L209.48,545.09 L210.27,545.09 L211.06,545.10 L211.85,545.10 L212.64,545.10 L213.43,545.10 L214.22,545.10 L215.01,545.10 L215.79,545.10 L216.58,545.10 L217.37,545.10 L218.16,545.10 L218.95,545.10 L219.74,545.10 L220.53,545.10 L221.32,545.10 L222.11,545.10 L222.90,545.10 L223.69,545.10 L224.48,545.10 L225.27,545.10 L226.06,545.10 L226.85,545.10 L227.64,545.10 L228.42,545.10 L229.21,545.10 L230.00,545.10 L230.79,545.10 L231.58,545.10 L232.37,545.10 L233.16,545.10 L233.95,545.10 L234.74,545.10 L235.53,545.10 L236.32,545.10 L237.11,545.10 L237.90,545.10 L238.69,545.10 L239.48,545.10 L240.26,545.10 L241.05,545.10 L241.84,545.10 L242.63,545.10 L243.42,545.10 L244.21,545.10 L245.00,545.10 L245.79,545.10 L246.58,545.10 L247.37,545.10 L248.16,545.10 L248.95,545.10 L249.74,545.10 L250.53,545.10 L251.32,545.10 L252.11,545.10 L252.89,545.10 L253.68,545.10 L254.47,545.10 L255.26,545.10 L256.05,545.10 L256.84,545.10 L257.63,545.10 L258.42,545.10 L259.21,545.10 L260.00,545.10 L260.79,545.10 L261.58,545.10 L262.37,545.10 L263.16,545.10 L263.95,545.10 L264.74,545.10 L265.52,545.10 L266.31,545.10 L267.10,545.10 L267.89,545.10 L268.68,545.10 L269.47,545.10 L270.26,545.10 L271.05,545.10 L271.84,545.10 L272.63,545.10 L273.42,545.10 L274.21,545.10 L275.00,545.10 L275.79,545.10 L276.58,545.10 L277.37,545.10 L278.15,545.10 L278.94,545.10 L279.73,545.10 L280.52,545.10 L281.31,545.10 L282.10,545.10 L282.89,545.10 L283.68,545.10 L284.47,545.10 L285.26,545.10 L286.05,545.10 L286.84,545.10 L287.63,545.10 L288.42,545.10 L289.21,545.10 L290.00,545.10 L290.78,545.10 L291.57,545.10 L292.36,545.10 L293.15,545.10 L293.94,545.10 L294.73,545.10 L295.52,545.10 L296.31,545.10 L297.10,545.10 L297.89,545.10 L298.68,545.10 L299.47,545.10 L300.26,545.10 L301.05,545.10 L301.84,545.10 L302.63,545.10 L303.42,545.10 L304.20,545.10 L304.99,545.10 L360.25,545.10" stroke="#000" stroke-width="1.6"/>
<path d="M44.50,545.10 L99.76,545.10 L100.55,545.10 L101.34,545.10 L102.12,545.10 L102.91,545.10 L103.70,545.10 L104.49,545.10 L105.28,545.10 L106.07,545.10 L106.86,545.10 L107.65,545.10 L108.44,545.10 L109.23,545.10 L110.02,545.10 L110.81,545.10 L111.60,545.10 L112.39,545.10 L113.18,545.10 L113.96,545.10 L114.75,545.10 L115.54,545.10 L116.33,545.10 L117.12,545.10 L117.91,545.10 L118.70,545.10 L119.49,545.10 L120.28,545.10 L121.07,545.10 L121.86,545.10 L122.65,545.10 L123.44,545.10 L124.23,545.10 L125.02,545.10 L125.81,545.10 L126.59,545.10 L127.38,545.10 L128.17,545.10 L128.96,545.10 L129.75,545.10 L130.54,545.10 L131.33,545.10 L132.12,545.10 L132.91,545.10 L133.70,545.10 L134.49,545.10 L135.28,545.10 L136.07,545.10 L136.86,545.10 L137.65,545.10 L138.44,545.10 L139.22,545.10 L140.01,545.10 L140.80,545.10 L141.59,545.10 L142.38,545.10 L143.17,545.10 L143.96,545.10 L144.75,545.10 L145.54,545.10 L146.33,545.10 L147.12,545.10 L147.91,545.10 L148.70,545.10 L149.49,545.10 L150.28,545.10 L151.07,545.10 L151.85,545.10 L152.64,545.09 L153.43,545.09 L154.22,545.09 L155.01,545.08 L155.80,545.07 L156.59,545.05 L157.38,545.02 L158.17,544.98 L158.96,544.93 L159.75,544.85 L160.54,544.74 L161.33,544.58 L162.12,544.35 L162.91,544.02 L163.70,543.55 L164.49,542.92 L165.27,542.08 L166.06,541.00 L166.85,539.59 L167.64,537.77 L168.43,535.45 L169.22,532.56 L170.01,529.33 L170.80,525.99 L171.59,522.35 L172.38,518.07 L173.17,512.90 L173.96,507.04 L174.75,500.52 L175.54,493.38 L176.33,485.88 L177.12,478.14 L177.90,469.53 L178.69,459.23 L179.48,447.24 L180.27,434.84 L181.06,422.78 L181.85,414.45 L182.64,406.82 L183.43,399.77 L184.22,393.05 L185.01,386.77 L185.80,381.13 L186.59,375.59 L187.38,370.47 L188.17,366.62 L188.96,364.07 L189.75,362.02 L190.53,360.28 L191.32,358.76 L192.11,357.37 L192.90,356.12 L193.69,355.03 L194.48,354.09 L195.27,353.28 L196.06,352.59 L196.85,352.01 L197.64,351.53 L198.43,351.14 L199.22,350.84 L200.01,350.62 L200.80,350.47 L201.59,350.39 L202.38,350.37 L203.16,350.38 L203.95,350.42 L204.74,350.52 L205.53,350.68 L206.32,350.91 L207.11,351.23 L207.90,351.64 L208.69,352.16 L209.48,352.81 L210.27,353.59 L211.06,354.53 L211.85,355.65 L212.64,356.98 L213.43,358.54 L214.22,360.36 L215.01,362.49 L215.79,364.97 L216.58,367.85 L217.37,371.13 L218.16,374.75 L218.95,378.81 L219.74,383.44 L220.53,388.61 L221.32,394.44 L222.11,401.66 L222.90,411.15 L223.69,422.34 L224.48,434.63 L225.27,448.89 L226.06,463.84 L226.85,475.42 L227.64,486.34 L228.42,496.35 L229.21,504.86 L230.00,512.15 L230.79,518.55 L231.58,523.83 L232.37,528.29 L233.16,532.33 L233.95,535.91 L234.74,538.71 L235.53,540.73 L236.32,542.11 L237.11,543.06 L237.90,543.73 L238.69,544.19 L239.48,544.51 L240.26,544.72 L241.05,544.86 L241.84,544.95 L242.63,545.01 L243.42,545.04 L244.21,545.07 L245.00,545.08 L245.79,545.09 L246.58,545.09 L247.37,545.10 L248.16,545.10 L248.95,545.10 L249.74,545.10 L250.53,545.10 L251.32,545.10 L252.11,545.10 L252.89,545.10 L253.68,545.10 L254.47,545.10 L255.26,545.10 L256.05,545.10 L256.84,545.10 L257.63,545.10 L258.42,545.10 L259.21,545.10 L260.00,545.10 L260.79,545.10 L261.58,545.10 L262.37,545.10 L263.16,545.10 L263.95,545.10 L264.74,545.10 L265.52,545.10 L266.31,545.10 L267.10,545.10 L267.89,545.10 L268.68,545.10 L269.47,545.10 L270.26,545.10 L271.05,545.10 L271.84,545.10 L272.63,545.10 L273.42,545.10 L274.21,545.10 L275.00,545.10 L275.79,545.10 L276.58,545.10 L277.37,545.10 L278.15,545.10 L278.94,545.10 L279.73,545.10 L280.52,545.10 L281.31,545.10 L282.10,545.10 L282.89,545.10 L283.68,545.10 L284.47,545.10 L285.26,545.10 L286.05,545.10 L286.84,545.10 L287.63,545.10 L288.42,545.10 L289.21,545.10 L290.00,545.10 L290.78,545.10 L291.57,545.10 L292.36,545.10 L293.15,545.10 L293.94,545.10 L294.73,545.10 L295.52,545.10 L296.31,545.10 L297.10,545.10 L297.89,545.10 L298.68,545.10 L299.47,545.10 L300.26,545.10 L301.05,545.10 L301.84,545.10 L302.63,545.10 L303.42,545.10 L304.20,545.10 L304.99,545.10 L360.25,545.10" stroke="#000" stroke-width="1.6"/>
<path d="M44.50,545.10 L99.76,545.10 L100.55,545.10 L101.34,545.10 L102.12,545.10 L102.91,545.10 L103.70,545.10 L104.49,545.10 L105.28,545.10 L106.07,545.10 L106.86,545.10 L107.65,545.10 L108.44,545.10 L109.23,545.10 L110.02,545.10 L110.81,545.10 L111.60,545.10 L112.39,545.10 L113.18,545.10 L113.96,545.10 L114.75,545.10 L115.54,545.10 L116.33,545.10 L117.12,545.10 L117.91,545.10 L118.70,545.10 L119.49,545.10 L120.28,545.10 L121.07,545.10 L121.86,545.10 L122.65,545.10 L123.44,545.10 L124.23,545.10 L125.02,545.10 L125.81,545.10 L126.59,545.10 L127.38,545.10 L128.17,545.10 L128.96,545.10 L129.75,545.10 L130.54,545.10 L131.33,545.10 L132.12,545.10 L132.91,545.10 L133.70,545.10 L134.49,545.10 L135.28,545.10 L136.07,545.10 L136.86,545.10 L137.65,545.10 L138.44,545.10 L139.22,545.10 L140.01,545.10 L140.80,545.10 L141.59,545.10 L142.38,545.10 L143.17,545.10 L143.96,545.10 L144.75,545.10 L145.54,545.10 L146.33,545.10 L147.12,545.10 L147.91,545.10 L148.70,545.10 L149.49,545.10 L150.28,545.10 L151.07,545.10 L151.85,545.10 L152.64,545.10 L153.43,545.10 L154.22,545.10 L155.01,545.10 L155.80,545.10 L156.59,545.10 L157.38,545.10 L158.17,545.10 L158.96,545.10 L159.75,545.10 L160.54,545.10 L161.33,545.10 L162.12,545.10 L162.91,545.10 L163.70,545.10 L164.49,545.10 L165.27,545.10 L166.06,545.10 L166.85,545.10 L167.64,545.10 L168.43,545.10 L169.22,545.10 L170.01,545.10 L170.80,545.10 L171.59,545.10 L172.38,545.10 L173.17,545.10 L173.96,545.10 L174.75,545.10 L175.54,545.10 L176.33,545.10 L177.12,545.10 L177.90,545.10 L178.69,545.10 L179.48,545.10 L180.27,545.10 L181.06,545.10 L181.85,545.10 L182.64,545.10 L183.43,545.10 L184.22,545.10 L185.01,545.10 L185.80,545.10 L186.59,545.10 L187.38,545.10 L188.17,545.10 L188.96,545.10 L189.75,545.10 L190.53,545.10 L191.32,545.10 L192.11,545.10 L192.90,545.10 L193.69,545.10 L194.48,545.09 L195.27,545.09 L196.06,545.09 L196.85,545.08 L197.64,545.06 L198.43,545.05 L199.22,545.02 L200.01,544.97 L200.80,544.91 L201.59,544.81 L202.38,544.67 L203.16,544.42 L203.95,543.93 L204.74,543.10 L205.53,541.98 L206.32,540.72 L207.11,539.09 L207.90,536.98 L208.69,534.30 L209.48,531.05 L210.27,527.66 L211.06,524.05 L211.85,519.85 L212.64,514.59 L213.43,508.58 L214.22,501.72 L215.01,493.72 L215.79,484.22 L216.58,473.55 L217.37,463.20 L218.16,453.97 L218.95,445.24 L219.74,436.40 L220.53,427.68 L221.32,419.20 L222.11,411.31 L222.90,404.05 L223.69,396.44 L224.48,388.85 L225.27,382.46 L226.06,377.51 L226.85,373.29 L227.64,369.75 L228.42,366.82 L229.21,364.45 L230.00,362.50 L230.79,360.82 L231.58,359.37 L232.37,358.13 L233.16,357.07 L233.95,356.18 L234.74,355.43 L235.53,354.82 L236.32,354.33 L237.11,353.93 L237.90,353.63 L238.69,353.41 L239.48,353.26 L240.26,353.16 L241.05,353.12 L241.84,353.11 L242.63,353.11 L243.42,353.12 L244.21,353.16 L245.00,353.23 L245.79,353.35 L246.58,353.52 L247.37,353.77 L248.16,354.09 L248.95,354.51 L249.74,355.04 L250.53,355.69 L251.32,356.50 L252.11,357.47 L252.89,358.64 L253.68,360.03 L254.47,361.64 L255.26,363.40 L256.05,365.34 L256.84,367.55 L257.63,370.15 L258.42,373.32 L259.21,377.33 L260.00,382.73 L260.79,389.50 L261.58,397.10 L262.37,405.33 L263.16,414.67 L263.95,425.33 L264.74,437.36 L265.52,452.07 L266.31,467.87 L267.10,482.05 L267.89,494.38 L268.68,504.99 L269.47,514.12 L270.26,521.53 L271.05,526.94 L271.84,531.20 L272.63,534.76 L273.42,537.52 L274.21,539.66 L275.00,541.33 L275.79,542.59 L276.58,543.47 L277.37,544.07 L278.15,544.47 L278.94,544.73 L279.73,544.89 L280.52,544.98 L281.31,545.03 L282.10,545.06 L282.89,545.08 L283.68,545.09 L284.47,545.10 L285.26,545.10 L286.05,545.10 L286.84,545.10 L287.63,545.10 L288.42,545.10 L289.21,545.10 L290.00,545.10 L290.78,545.10 L291.57,545.10 L292.36,545.10 L293.15,545.10 L293.94,545.10 L294.73,545.10 L295.52,545.10 L296.31,545.10 L297.10,545.10 L297.89,545.10 L298.68,545.10 L299.47,545.10 L300.26,545.10 L301.05,545.10 L301.84,545.10 L302.63,545.10 L303.42,545.10 L304.20,545.10 L304.99,545.10 L360.25,545.10" stroke="#000" stroke-width="1.6"/>
</g>
<rect x="44.5" y="300.05" width="315.75" height="245.05" fill="none" stroke="#000" stroke-width="1.3"/>
<path d="M44.50,545.1 v-3.1 M44.50,300.05 v3.1" stroke="#000" stroke-width="1.2"/>
<text stroke="#000" stroke-width="0.22" x="44.50" y="554.50" font-size="8" text-anchor="middle">−4</text>
<path d="M83.97,545.1 v-3.1 M83.97,300.05 v3.1" stroke="#000" stroke-width="1.2"/>
<text stroke="#000" stroke-width="0.22" x="83.97" y="554.50" font-size="8" text-anchor="middle">−3</text>
<path d="M123.44,545.1 v-3.1 M123.44,300.05 v3.1" stroke="#000" stroke-width="1.2"/>
<text stroke="#000" stroke-width="0.22" x="123.44" y="554.50" font-size="8" text-anchor="middle">−2</text>
<path d="M162.91,545.1 v-3.1 M162.91,300.05 v3.1" stroke="#000" stroke-width="1.2"/>
<text stroke="#000" stroke-width="0.22" x="162.91" y="554.50" font-size="8" text-anchor="middle">−1</text>
<path d="M202.38,545.1 v-3.1 M202.38,300.05 v3.1" stroke="#000" stroke-width="1.2"/>
<text stroke="#000" stroke-width="0.22" x="202.38" y="554.50" font-size="8" text-anchor="middle">0</text>
<path d="M241.84,545.1 v-3.1 M241.84,300.05 v3.1" stroke="#000" stroke-width="1.2"/>
<text stroke="#000" stroke-width="0.22" x="241.84" y="554.50" font-size="8" text-anchor="middle">1</text>
<path d="M281.31,545.1 v-3.1 M281.31,300.05 v3.1" stroke="#000" stroke-width="1.2"/>
<text stroke="#000" stroke-width="0.22" x="281.31" y="554.50" font-size="8" text-anchor="middle">2</text>
<path d="M320.78,545.1 v-3.1 M320.78,300.05 v3.1" stroke="#000" stroke-width="1.2"/>
<text stroke="#000" stroke-width="0.22" x="320.78" y="554.50" font-size="8" text-anchor="middle">3</text>
<path d="M360.25,545.1 v-3.1 M360.25,300.05 v3.1" stroke="#000" stroke-width="1.2"/>
<text stroke="#000" stroke-width="0.22" x="360.25" y="554.50" font-size="8" text-anchor="middle">4</text>
<path d="M44.5,545.10 h3.1 M360.25,545.10 h-3.1" stroke="#000" stroke-width="1.2"/>
<text stroke="#000" stroke-width="0.22" x="40.30" y="548.35" font-size="8.5" text-anchor="end">0.0</text>
<path d="M44.5,502.96 h3.1 M360.25,502.96 h-3.1" stroke="#000" stroke-width="1.2"/>
<text stroke="#000" stroke-width="0.22" x="40.30" y="506.21" font-size="8.5" text-anchor="end">0.2</text>
<path d="M44.5,460.22 h3.1 M360.25,460.22 h-3.1" stroke="#000" stroke-width="1.2"/>
<text stroke="#000" stroke-width="0.22" x="40.30" y="463.47" font-size="8.5" text-anchor="end">0.4</text>
<path d="M44.5,417.48 h3.1 M360.25,417.48 h-3.1" stroke="#000" stroke-width="1.2"/>
<text stroke="#000" stroke-width="0.22" x="40.30" y="420.73" font-size="8.5" text-anchor="end">0.6</text>
<path d="M44.5,374.74 h3.1 M360.25,374.74 h-3.1" stroke="#000" stroke-width="1.2"/>
<text stroke="#000" stroke-width="0.22" x="40.30" y="377.99" font-size="8.5" text-anchor="end">0.8</text>
<path d="M44.5,332.00 h3.1 M360.25,332.00 h-3.1" stroke="#000" stroke-width="1.2"/>
<text stroke="#000" stroke-width="0.22" x="40.30" y="335.25" font-size="8.5" text-anchor="end">1.0</text>
<path d="M44.0,547.5 H360.65" stroke="#000" stroke-opacity="0.5" stroke-width="0.8"/>
<text stroke="#000" stroke-width="0.22" x="203.3" y="571" font-size="10" text-anchor="middle">input</text>
<text stroke="#000" stroke-width="0.22" transform="translate(15.8,453.6) rotate(-90)" font-size="10.3">NN output</text>
<text y="332.4" fill="#ff2800" stroke="#ff2800" stroke-width="0.12" font-size="9.3" font-family="'Liberation Serif','DejaVu Serif',serif"><tspan x="166.90" font-style="italic" font-size="10">θ</tspan><tspan x="172.80" font-family="'DejaVu Serif',serif" font-size="8" stroke="none">=</tspan><tspan x="179.90" font-family="'DejaVu Serif',serif" font-size="8" stroke="none">−</tspan><tspan x="186.40">0.5</tspan></text>
<text y="332.4" fill="#ff2800" stroke="#ff2800" stroke-width="0.12" font-size="9.3" font-family="'Liberation Serif','DejaVu Serif',serif"><tspan x="210.00" font-style="italic" font-size="10">θ</tspan><tspan x="215.90" font-family="'DejaVu Serif',serif" font-size="8" stroke="none">=</tspan><tspan x="222.50">0.5</tspan></text>
<text y="342.8" fill="#000" stroke="#000" stroke-width="0.12" font-size="9.3" font-family="'Liberation Serif','DejaVu Serif',serif"><tspan x="147.40" font-style="italic" font-size="10">θ</tspan><tspan x="153.30" font-family="'DejaVu Serif',serif" font-size="8" stroke="none">=</tspan><tspan x="160.40" font-family="'DejaVu Serif',serif" font-size="8" stroke="none">−</tspan><tspan x="166.90">1.0</tspan></text>
<text y="342.8" fill="#000" stroke="#000" stroke-width="0.12" font-size="9.3" font-family="'Liberation Serif','DejaVu Serif',serif"><tspan x="193.80" font-style="italic" font-size="10">θ</tspan><tspan x="199.70" font-family="'DejaVu Serif',serif" font-size="8" stroke="none">=</tspan><tspan x="206.30">0</tspan></text>
<text y="342.8" fill="#000" stroke="#000" stroke-width="0.12" font-size="9.3" font-family="'Liberation Serif','DejaVu Serif',serif"><tspan x="229.80" font-style="italic" font-size="10">θ</tspan><tspan x="235.70" font-family="'DejaVu Serif',serif" font-size="8" stroke="none">=</tspan><tspan x="242.30">1.0</tspan></text>
<rect x="257.9" y="305.3" width="96.5" height="30.30000000000001" fill="#fff" stroke="#000" stroke-width="1.2"/>
<path d="M261.8,313.6 H282.6" stroke="#000" stroke-width="1.6"/>
<path d="M261.8,327.9 H282.6" stroke="#ff2800" stroke-width="1.6" stroke-dasharray="4.9,3.6"/>
<text stroke="#000" stroke-width="0.22" x="291.2" y="317.4" font-size="10.3">Trained</text>
<text stroke="#000" stroke-width="0.22" x="291.2" y="331.8" font-size="10.3">Interpolated</text>
</svg>
</body></html>
